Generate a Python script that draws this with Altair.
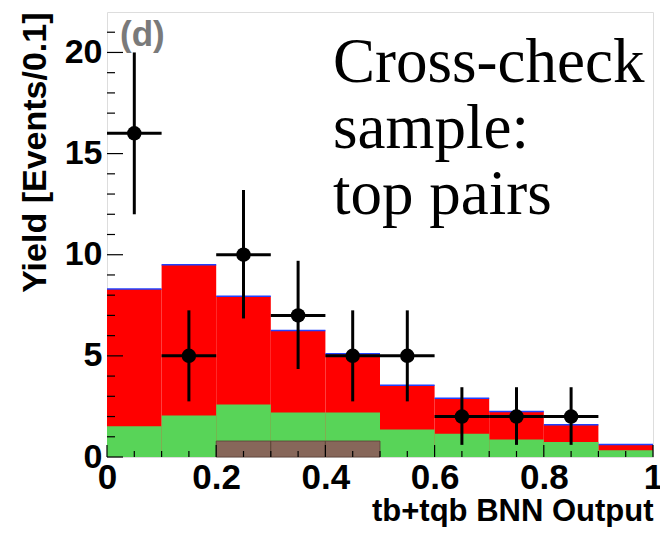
import altair as alt
import pandas as pd

# ---- data ----
bin_lo = [0.0, 0.1, 0.2, 0.3, 0.4, 0.5, 0.6, 0.7, 0.8, 0.9]
bin_hi = [0.1, 0.2, 0.3, 0.4, 0.5, 0.6, 0.7, 0.8, 0.9, 1.0]
ttbar_top = [8.3, 9.5, 7.95, 6.25, 5.1, 3.55, 2.9, 2.25, 1.6, 0.62]
wjets_top = [1.52, 2.05, 2.6, 2.2, 2.2, 1.36, 1.15, 0.87, 0.74, 0.33]
multijet_top = [0.0, 0.0, 0.79, 0.79, 0.79, 0.0, 0.0, 0.0, 0.0, 0.0]

data_x = [0.05, 0.15, 0.25, 0.35, 0.45, 0.55, 0.65, 0.75, 0.85]
data_y = [16, 5, 10, 7, 5, 5, 2, 2, 2]
data_lo = [12.0, 2.75, 6.85, 4.35, 2.75, 2.75, 0.6, 0.6, 0.6]
data_hi = [20.0, 7.25, 13.2, 9.7, 7.25, 7.25, 3.45, 3.45, 3.45]

y_major = [0, 5, 10, 15, 20]
y_minor = [1, 2, 3, 4, 6, 7, 8, 9, 11, 12, 13, 14, 16, 17, 18, 19, 21]
x_major = [0.0, 0.2, 0.4, 0.6, 0.8, 1.0]
x_minor = [0.05, 0.1, 0.15, 0.25, 0.3, 0.35, 0.45, 0.5, 0.55, 0.65, 0.7, 0.75, 0.85, 0.9, 0.95]

x_title = "tb+tqb BNN Output"
y_title = "Yield [Events/0.1]"
panel_label = "(d)"
note_lines = ["Cross-check", "sample:", "top pairs"]

W, H = 546, 445
SANS = "Liberation Sans"
SERIF = "Liberation Serif"

hist = pd.DataFrame({"lo": bin_lo, "hi": bin_hi, "tt": ttbar_top,
                     "wj": wjets_top, "mj": multijet_top, "zero": 0.0})
pts = pd.DataFrame({"x": data_x, "y": data_y, "lo": data_lo, "hi": data_hi})
pts["xl"] = pts["x"] - 0.05
pts["xh"] = pts["x"] + 0.05

xs = alt.Scale(domain=[0, 1], nice=False, zero=False)
ys = alt.Scale(domain=[0, 22], nice=False, zero=False)

xaxis = alt.Axis(values=x_major, format="~g", ticks=False, domain=False, grid=False,
                 labelFont=SANS, labelFontSize=35, labelFontWeight="bold",
                 labelColor="#000", labelPadding=3, labelFlush=False, labelOverlap=False,
                 titleFont=SANS, titleFontSize=31, titleFontWeight="bold", titleColor="#000",
                 titleAnchor="end", titleAlign="right", titleX=W, titleY=63,
                 titleBaseline="alphabetic")
yaxis = alt.Axis(values=y_major, format="~g", ticks=False, domain=False, grid=False,
                 labelFont=SANS, labelFontSize=34, labelFontWeight="bold",
                 labelColor="#000", labelPadding=5, labelFlush=False, labelOverlap=False,
                 titleFont=SANS, titleFontSize=34, titleFontWeight="bold", titleColor="#000",
                 titleAngle=-90, titleAnchor="end", titleAlign="right",
                 titleX=-62, titleY=0, titleBaseline="alphabetic")


def X(f):
    return alt.X(f, type="quantitative", scale=xs, axis=xaxis, title=x_title)


def Y(f):
    return alt.Y(f, type="quantitative", scale=ys, axis=yaxis, title=y_title)


base_h = alt.Chart(hist)

red = base_h.mark_rect(color="#ff0000").encode(x=X("lo"), x2="hi", y=Y("tt"), y2="zero")
blue = base_h.mark_rule(color="#2040ff", strokeWidth=1.5).encode(x=X("lo"), x2="hi", y=Y("tt"))
green = base_h.mark_rect(color="#58d458").encode(x=X("lo"), x2="hi", y=Y("wj"), y2="zero")
brown = base_h.transform_filter("datum.mj > 0").mark_rect(
    color="#87675a", stroke="#5a4035", strokeWidth=0.8).encode(
    x=X("lo"), x2="hi", y=Y("mj"), y2="zero")

yt_major = alt.Chart(pd.DataFrame({"v": y_major})).mark_rule(color="#000", strokeWidth=1.2).encode(
    y=Y("v"), x=alt.value(0), x2=alt.value(16))
yt_minor = alt.Chart(pd.DataFrame({"v": y_minor})).mark_rule(color="#000", strokeWidth=1.2).encode(
    y=Y("v"), x=alt.value(0), x2=alt.value(8))
xt_major = alt.Chart(pd.DataFrame({"v": x_major})).mark_rule(color="#000", strokeWidth=1.2).encode(
    x=X("v"), y=alt.value(H), y2=alt.value(H - 12))
xt_minor = alt.Chart(pd.DataFrame({"v": x_minor})).mark_rule(color="#000", strokeWidth=1.2).encode(
    x=X("v"), y=alt.value(H), y2=alt.value(H - 6))

base_p = alt.Chart(pts)
vbar = base_p.mark_rule(color="#000", strokeWidth=3).encode(x=X("x"), y=Y("lo"), y2="hi")
hbar = base_p.mark_rule(color="#000", strokeWidth=3).encode(x=X("xl"), x2="xh", y=Y("y"))
dots = base_p.mark_circle(color="#000", opacity=1, size=210).encode(x=X("x"), y=Y("y"))

lbl = alt.Chart(pd.DataFrame({"t": [panel_label]})).mark_text(
    font=SANS, fontSize=35, fontWeight="bold", color="#7a7a7a", align="left",
    baseline="alphabetic").encode(text="t:N", x=alt.value(13), y=alt.value(34))

note_layers = []
for i, line in enumerate(note_lines):
    note_layers.append(
        alt.Chart(pd.DataFrame({"t": [line]})).mark_text(
            font=SERIF, fontSize=63, color="#000", align="left", baseline="alphabetic"
        ).encode(text="t:N", x=alt.value(226), y=alt.value(70 + 66 * i))
    )

chart = alt.layer(
    red, blue, green, brown, yt_major, yt_minor, xt_major, xt_minor,
    vbar, hbar, dots, lbl, *note_layers
).properties(
    width=W, height=H,
    autosize=alt.AutoSizeParams(type="none"),
    padding={"left": 99, "top": 4, "right": 7, "bottom": 70},
).configure_view(
    stroke="#222", strokeWidth=1.5
).configure(background="#ffffff")

chart.save("out.html", embed_options={"renderer": "svg", "actions": False})
